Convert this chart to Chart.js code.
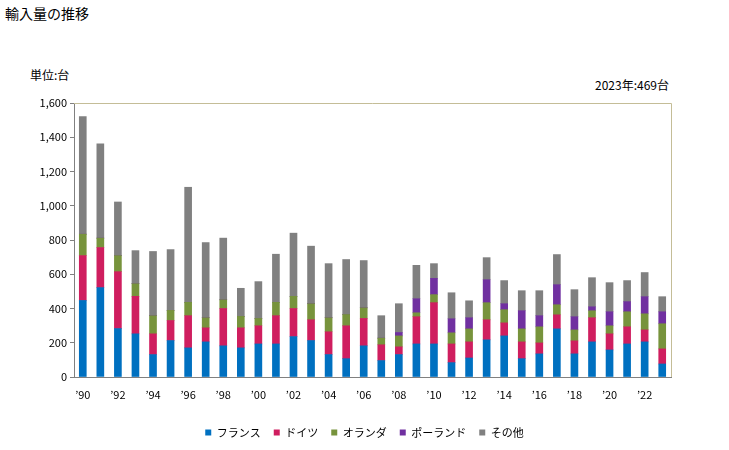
<!DOCTYPE html>
<html lang="ja">
<head>
<meta charset="UTF-8">
<title>輸入量の推移</title>
<script src="https://cdn.jsdelivr.net/npm/chart.js"></script>
<style>
  body { margin: 0; background: #fff; font-family: "Noto Sans CJK JP", sans-serif; }
  .wrap { position: relative; width: 729px; height: 450px; }
  .title { position: absolute; left: 5px; top: 3px; font-size: 14px; color: #000; }
  .unit { position: absolute; left: 30px; top: 66px; font-size: 12px; color: #000; }
  .note { position: absolute; right: 60px; top: 76px; font-size: 12px; color: #000; }
  canvas { position: absolute; left: 0; top: 0; }
</style>
</head>
<body>
<div class="wrap">
  <div class="title">輸入量の推移</div>
  <div class="unit">単位:台</div>
  <div class="note">2023年:469台</div>
  <canvas id="chart" width="729" height="450"></canvas>
</div>
<script>
// years 1990 - 2023
const years = ['’90','’91','’92','’93','’94','’95','’96','’97','’98','’99',
  '’00','’01','’02','’03','’04','’05','’06','’07','’08','’09',
  '’10','’11','’12','’13','’14','’15','’16','’17','’18','’19',
  '’20','’21','’22','’23'];

const france  = [447,522,283,252,131,213,170,205,182,170,193,193,236,213,131,107,182,96,131,193,193,84,111,217,240,107,135,281,135,205,158,193,205,76];
const germany = [262,234,332,219,121,117,188,82,218,117,106,165,164,121,133,192,160,92,45,159,241,109,94,117,76,98,64,82,76,141,94,100,70,88];
const netherlands = [125,55,94,74,106,59,78,59,51,67,43,78,71,94,82,66,62,39,64,23,47,65,76,100,77,76,94,59,64,41,47,88,94,147];
const poland  = [0,0,0,0,0,0,0,0,0,0,0,0,0,0,0,0,0,0,20,82,95,82,65,134,35,106,65,117,77,23,82,59,100,70];
const others  = [686,551,313,193,375,355,672,439,360,164,215,281,369,336,316,321,276,131,168,195,86,152,99,129,135,117,146,176,158,170,170,123,141,88];

const yTicks = [0,200,400,600,800,1000,1200,1400,1600];

const series = [
  { label: 'フランス', data: france, color: '#0070C0' },
  { label: 'ドイツ', data: germany, color: '#CF1E5F' },
  { label: 'オランダ', data: netherlands, color: '#77933C' },
  { label: 'ポーランド', data: poland, color: '#7030A0' },
  { label: 'その他', data: others, color: '#808080' }
];

// top and right frame of the plot area
const framePlugin = {
  id: 'frame',
  afterDraw(chart) {
    const a = chart.chartArea, c = chart.ctx;
    c.save();
    c.strokeStyle = '#C4BD97';
    c.lineWidth = 1;
    c.beginPath();
    c.moveTo(a.left, a.top + 0.5);
    c.lineTo(a.right + 0.5, a.top + 0.5);
    c.lineTo(a.right + 0.5, a.bottom);
    c.stroke();
    c.restore();
  }
};

const font = { family: '"Noto Sans CJK JP", sans-serif', size: 11 };

new Chart(document.getElementById('chart'), {
  type: 'bar',
  data: {
    labels: years,
    datasets: series.map(s => ({
      label: s.label,
      data: s.data,
      backgroundColor: s.color,
      borderWidth: 0,
      barThickness: 7
    }))
  },
  options: {
    responsive: false,
    animation: false,
    layout: { padding: { left: 0, right: 0, top: 103, bottom: 2 } },
    plugins: {
      tooltip: { enabled: false },
      legend: {
        position: 'bottom',
        labels: {
          boxWidth: 6, boxHeight: 6, padding: 13,
          color: '#000',
          font: { family: '"Noto Sans CJK JP", sans-serif', size: 11 }
        }
      }
    },
    scales: {
      x: {
        stacked: true,
        grid: { display: false },
        border: { display: true, color: '#808080' },
        ticks: {
          autoSkip: false, maxRotation: 0, color: '#000', font: font,
          callback: (v, i) => (i % 2 === 0 ? years[i] : '')
        },
        afterFit: s => { s.height = 37; }
      },
      y: {
        stacked: true,
        min: 0, max: 1600,
        afterBuildTicks: s => { s.ticks = yTicks.map(v => ({ value: v })); },
        grid: { drawOnChartArea: false, drawTicks: true, tickLength: 4, color: '#808080' },
        border: { display: true, color: '#808080' },
        ticks: {
          color: '#000', font: font, padding: 3,
          callback: v => v.toLocaleString('en-US')
        },
        afterFit: s => { s.width = 74; }
      },
      // empty right axis, only keeps space to the right of the plot
      yRight: {
        position: 'right',
        grid: { display: false },
        border: { display: false },
        ticks: { display: false },
        afterFit: s => { s.width = 58; }
      }
    }
  },
  plugins: [framePlugin]
});
</script>
</body>
</html>
